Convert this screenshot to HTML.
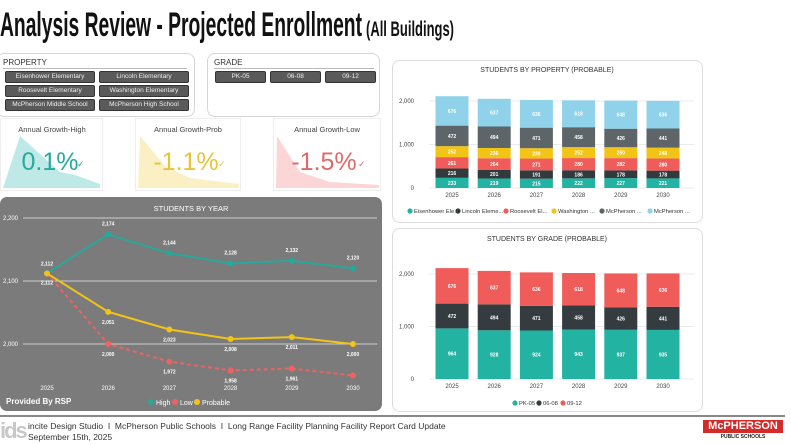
<!DOCTYPE html>
<html><head><meta charset="utf-8"><style>
body{margin:0;width:791px;height:444px;background:#fff;overflow:hidden;font-family:"Liberation Sans",sans-serif;position:relative}
.abs{position:absolute}
.box{position:absolute;border:1px solid #d6d6d6;border-radius:8px;background:#fff;box-sizing:border-box}
.chip{position:absolute;background:#5a5a5a;color:#eee;font-size:6.5px;text-align:center;line-height:10px;height:10px;border-radius:2px;border:1px solid #333}
</style></head><body>
<svg class="abs" style="left:0;top:0" width="791" height="50">
<text x="0" y="36" font-family="Liberation Sans" font-weight="bold" font-size="34" textLength="362" lengthAdjust="spacingAndGlyphs" fill="#111">Analysis Review - Projected Enrollment</text>
<text x="366" y="36" font-family="Liberation Sans" font-weight="bold" font-size="21" textLength="88" lengthAdjust="spacingAndGlyphs" fill="#111">(All Buildings)</text>
</svg>

<div class="box" style="left:-4px;top:53px;width:199px;height:64px">
<div class="abs" style="left:6px;top:4px;font-size:8px;color:#333">PROPERTY</div>
<div class="abs" style="left:6px;top:14px;width:184px;border-top:1px solid #bbb"></div>
<div class="chip" style="left:8px;top:17px;width:88px">Eisenhower Elementary</div>
<div class="chip" style="left:102px;top:17px;width:88px">Lincoln Elementary</div>
<div class="chip" style="left:8px;top:31px;width:88px">Roosevelt Elementary</div>
<div class="chip" style="left:102px;top:31px;width:88px">Washington Elementary</div>
<div class="chip" style="left:8px;top:45px;width:88px">McPherson Middle School</div>
<div class="chip" style="left:102px;top:45px;width:88px">McPherson High School</div>
</div>
<div class="box" style="left:207px;top:53px;width:173px;height:64px">
<div class="abs" style="left:6px;top:4px;font-size:8px;color:#333">GRADE</div>
<div class="abs" style="left:6px;top:14px;width:160px;border-top:1px solid #bbb"></div>
<div class="chip" style="left:7px;top:17px;width:49px">PK-05</div>
<div class="chip" style="left:62px;top:17px;width:49px">06-08</div>
<div class="chip" style="left:117px;top:17px;width:49px">09-12</div>
</div>

<svg class="abs" style="left:0;top:118px" width="391" height="74">
<g>
<rect x="0.5" y="0.5" width="102" height="72" fill="#fff" stroke="#eee"/>
<path d="M3,70 L20,18 L60,54 L75,57 L100,66 L100,70 Z" fill="#bfe9e6"/>
<text x="52" y="14" font-size="7.5" text-anchor="middle" fill="#444">Annual Growth-High</text>
<text x="50" y="52" font-size="25" text-anchor="middle" fill="#27aa9c" font-weight="300">0.1%</text>
<text x="77" y="49" font-size="9" fill="#27aa9c">✓</text>
</g>
<g>
<rect x="135.5" y="0.5" width="105" height="72" fill="#fff" stroke="#eee"/>
<path d="M138,70 L140,18 L165,48 L190,60 L239,66 L239,70 Z" fill="#fbf0c4"/>
<text x="188" y="14" font-size="7.5" text-anchor="middle" fill="#444">Annual Growth-Prob</text>
<text x="186" y="52" font-size="25" text-anchor="middle" fill="#e6c53a">-1.1%</text>
<text x="218" y="49" font-size="9" fill="#e6c53a">✓</text>
</g>
<g>
<rect x="273.5" y="0.5" width="107" height="72" fill="#fff" stroke="#eee"/>
<path d="M276,70 L277,18 L300,54 L330,64 L379,67 L379,70 Z" fill="#fcd6d6"/>
<text x="327" y="14" font-size="7.5" text-anchor="middle" fill="#444">Annual Growth-Low</text>
<text x="324" y="52" font-size="25" text-anchor="middle" fill="#dd6a6a">-1.5%</text>
<text x="358" y="49" font-size="9" fill="#dd6a6a">✓</text>
</g>
</svg>

<svg class="abs" style="left:0;top:197px" width="383" height="215" id="lineSvg">
<rect x="0" y="0" width="382" height="214" rx="7" fill="#7b7b7b"/>
<text x="191" y="14" font-size="7.5" fill="#fff" text-anchor="middle">STUDENTS BY YEAR</text>
<text x="6" y="207" font-size="8" fill="#fff" font-weight="bold">Provided By RSP</text>
<g>
<circle cx="151" cy="205" r="3" fill="#27a89a"/><text x="156" y="208" font-size="7" fill="#fff">High</text>
<circle cx="175" cy="205" r="3" fill="#f06262"/><text x="180" y="208" font-size="7" fill="#fff">Low</text>
<circle cx="197" cy="205" r="3" fill="#f2c416"/><text x="202" y="208" font-size="7" fill="#fff">Probable</text>
</g>
</svg>

<svg class="abs" style="left:392px;top:60px" width="311" height="163" id="propSvg">
<rect x="0.5" y="0.5" width="310" height="162" rx="7" fill="#fff" stroke="#ddd"/>
<text x="155" y="12" font-size="7" fill="#333" text-anchor="middle">STUDENTS BY PROPERTY (PROBABLE)</text>
</svg>

<svg class="abs" style="left:392px;top:228px" width="311" height="184" id="gradeSvg">
<rect x="0.5" y="0.5" width="310" height="183" rx="7" fill="#fff" stroke="#ddd"/>
<text x="155" y="13" font-size="7" fill="#333" text-anchor="middle">STUDENTS BY GRADE (PROBABLE)</text>
</svg>

<div class="abs" style="left:0;top:415px;width:785px;border-top:2px solid #888"></div>
<div class="abs" style="left:0;top:418px;font-size:22px;font-weight:bold;color:#c8c8c8;letter-spacing:-2px">ids</div>
<div class="abs" style="left:28px;top:421px;font-size:8.5px;color:#333;line-height:10.5px">incite Design Studio &nbsp;I&nbsp; McPherson Public Schools &nbsp;I&nbsp; Long Range Facility Planning Facility Report Card Update<br>September 15th, 2025</div>
<div class="abs" style="left:703px;top:420px;width:80px;height:13px;background:#d42a2a;color:#fff;font-weight:bold;font-size:11px;text-align:center;line-height:13px">McPHERSON</div>
<div class="abs" style="left:703px;top:434px;width:80px;font-size:5px;font-weight:bold;text-align:center;color:#222">PUBLIC SCHOOLS</div>

<script>
const years=["2025","2026","2027","2028","2029","2030"];
const highVals=[2112,2174,2144,2128,2132,2120];
const lowVals=[2112,2000,1972,1958,1961,1950];
const probVals=[2112,2051,2023,2008,2011,2000];
const lineTicks=[2000,2100,2200];

const eisen=[233,219,215,222,227,221];
const lincoln=[216,201,191,186,178,178];
const roose=[261,264,271,280,282,280];
const wash=[252,236,239,252,250,248];
const mms=[472,494,471,458,426,441];
const mhs=[676,637,636,618,648,636];
const propTicks=[0,1000,2000];

const pk05=[964,928,924,943,937,935];
const g0608=[472,494,471,458,426,441];
const g0912=[676,637,636,618,648,636];
const gradeTicks=[0,1000,2000];

const NS="http://www.w3.org/2000/svg";
function mk(p,tag,at,txt){const e=document.createElementNS(NS,tag);for(const k in at)e.setAttribute(k,at[k]);if(txt!==undefined)e.textContent=txt;p.appendChild(e);return e;}
const fmt=v=>v.toLocaleString('en-US');

(function(){
const s=document.getElementById('lineSvg');
const y=v=>147-(v-2000)*0.63;
const x=i=>47+i*61.2;
lineTicks.forEach(t=>{
 const l=mk(s,'line',{x1:23,x2:377,y1:y(t),y2:y(t),stroke:'#e8e8e8','stroke-width':0.8});
 
 
 const tx=mk(s,'text',{x:3,y:y(t)+2,'font-size':6,fill:'#fff'},fmt(t));
 
 
});
years.forEach((yr,i)=>{
 const tx=mk(s,'text',{x:x(i),y:193,'font-size':6,fill:'#fff','text-anchor':'middle'},yr);
 
 
});
function series(vals,col,dash,name,lblOff,skipLast){
 const pl=mk(s,'polyline',{points:vals.map((v,i)=>x(i)+','+y(v)).join(' '),fill:'none',stroke:col,'stroke-width':2,'stroke-dasharray':dash});
 
 
 vals.forEach((v,i)=>{
  const c=mk(s,'circle',{cx:x(i),cy:y(v),r:3,fill:col});
  
  
  if(skipLast&&i===vals.length-1)return;
  if(i>0||name==='high'){const off=(i===0&&name==='high')?-8:lblOff;
  const t=mk(s,'text',{x:x(i),y:y(v)+off,'font-size':5,fill:'#fff','text-anchor':'middle','font-weight':'bold'},fmt(v));
  
  }
 });
}
series(lowVals,'#f06262','4,3','low',12,true);
series(highVals,'#27a89a','none','high',-9,false);
series(probVals,'#f2c416','none','probable',12,false);
const t0=mk(s,'text',{x:47,y:y(probVals[0])+11,'font-size':5,fill:'#fff','text-anchor':'middle','font-weight':'bold'},fmt(probVals[0]));


})();

function stacked(svgId,series,cols,names,ticks,y0,pxPer,labelCols,legend,legendY,legendX,legSp){
 const s=document.getElementById(svgId);
 const y=v=>y0-v*pxPer;
 const x=i=>60+i*42.2;
 ticks.forEach(t=>{
  const l=mk(s,'line',{x1:37,x2:302,y1:y(t),y2:y(t),stroke:'#e4e4e4','stroke-width':0.8});
  
  
  const tx=mk(s,'text',{x:22,y:y(t)+2,'font-size':6,fill:'#444','text-anchor':'end'},fmt(t));
  
  
 });
 years.forEach((yr,i)=>{
  let acc=0;
  series.forEach((arr,k)=>{
   const v=arr[i];
   const r=mk(s,'rect',{x:x(i)-16.5,y:y(acc+v),width:33,height:v*pxPer,fill:cols[k]});
   
   
   const t=mk(s,'text',{x:x(i),y:y(acc+v/2)+2,'font-size':5,fill:labelCols[k],'text-anchor':'middle','font-weight':'bold'},fmt(v));
   
   
   acc+=v;
  });
  const tx=mk(s,'text',{x:x(i),y:y0+9,'font-size':6,fill:'#444','text-anchor':'middle'},yr);
  
  
 });
 legend.forEach((lab,k)=>{
  const cx=legendX+k*legSp;
  const c=mk(s,'circle',{cx:cx,cy:legendY,r:2.6,fill:cols[k]});
  
  
  const t=mk(s,'text',{x:cx+4,y:legendY+2.2,'font-size':5.8,fill:'#333'},lab);
  
  
 });
}
stacked('propSvg',[eisen,lincoln,roose,wash,mms,mhs],['#22b3a2','#333a3e','#f05c5a','#f2c416','#5d6568','#8fd2ea'],
 ['eisenhower','lincoln','roosevelt','washington','mms','mhs'],propTicks,128,0.0435,['#fff','#fff','#fff','#fff','#fff','#fff'],
 ['Eisenhower Ele...','Lincoln Eleme...','Roosevelt El...','Washington ...','McPherson ...','McPherson ...'],151,18,48);
stacked('gradeSvg',[pk05,g0608,g0912],['#22b3a2','#353c40','#f05c5a'],['pk05','g0608','g0912'],gradeTicks,151,0.0525,['#fff','#fff','#fff'],
 ['PK-05','06-08','09-12'],175,123,24);
</script>
</body></html>
